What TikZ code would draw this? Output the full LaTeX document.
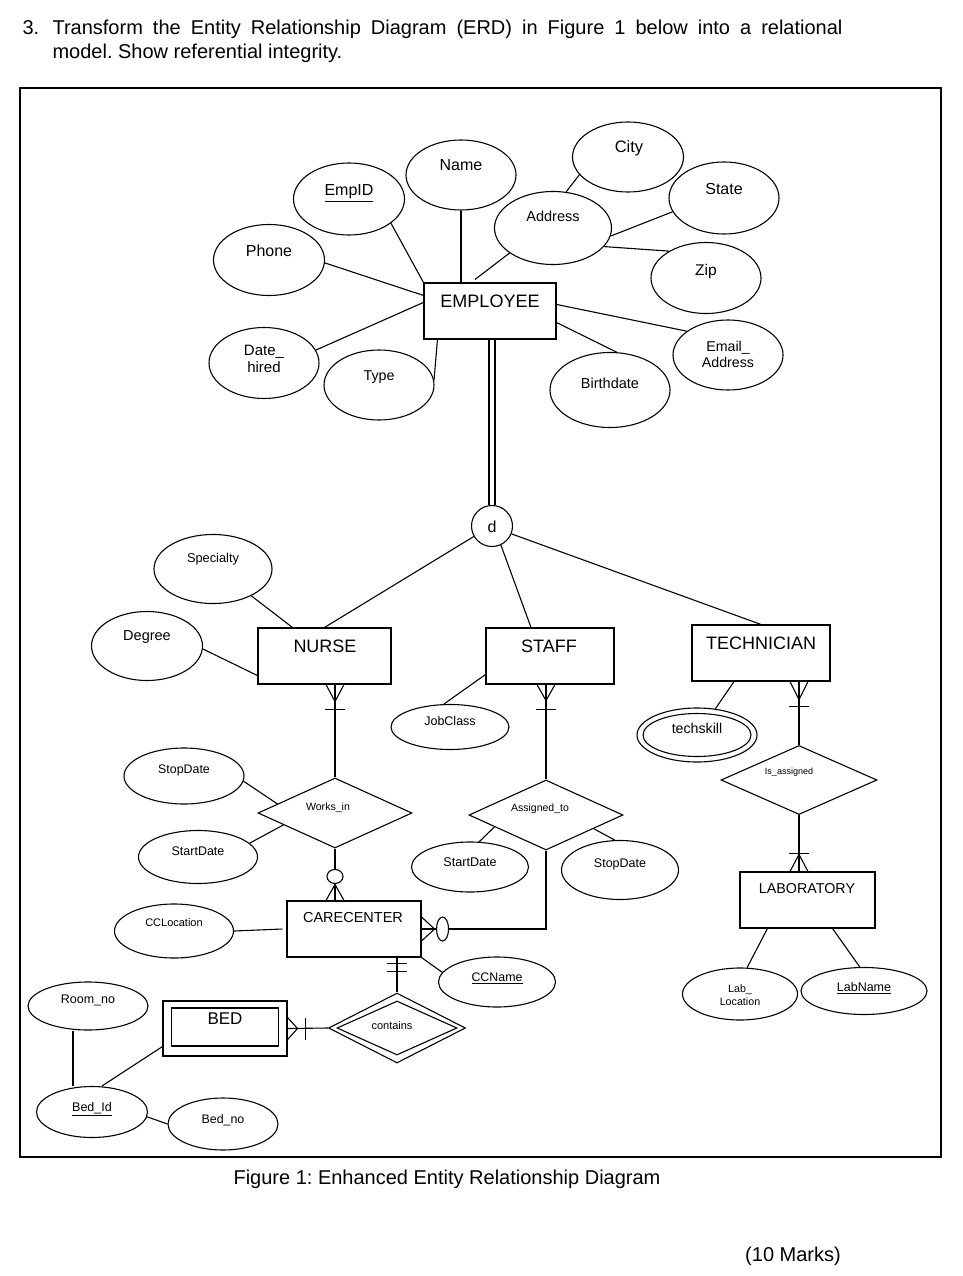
\documentclass[tikz,border=0pt]{standalone}
\usepackage{fontspec}
\setmainfont{Liberation Sans}
\usetikzlibrary{shapes.geometric}
\frenchspacing
\tikzset{
  ent/.style={draw, rectangle, inner sep=0pt},
  att/.style={draw, ellipse, inner sep=0pt},
  rel/.style={draw, diamond, inner sep=0pt},
  t/.style={inner sep=0pt, anchor=base, font=\fontsize{#1}{#1}\selectfont},
  tm/.style 2 args={inner sep=0pt, anchor=base, align=center, font=\fontsize{#1}{#2}\selectfont},
}
\begin{document}
\begin{tikzpicture}[x=1pt,y=-1pt,line width=1.1pt]
\useasboundingbox[fill=white] (0,0) rectangle (962,1276);

% title
\node[t=20, anchor=base west] (num) at (22,35) {3.};
\node[t=20, anchor=base west] (tl1) at (52,35) {\makebox[790pt][s]{Transform the Entity Relationship Diagram (ERD) in Figure 1 below into a relational}};
\node[t=20, anchor=base west] (tl2) at (52,59) {model. Show referential integrity.};

% frame
\draw[line width=1.2pt] (20,88) rectangle (941,1157);

% entities
\node[ent, minimum width=132pt, minimum height=56pt] (emp) at (490,311) {};
\node[ent, minimum width=133pt, minimum height=56pt] (nurse) at (324.5,656) {};
\node[ent, minimum width=128pt, minimum height=56pt] (staff) at (550,656) {};
\node[ent, minimum width=138pt, minimum height=56pt] (tech) at (761,653) {};
\node[ent, minimum width=134pt, minimum height=56pt] (carec) at (354,929) {};
\node[ent, minimum width=135pt, minimum height=56pt] (lab) at (807.5,900) {};
\node[ent, minimum width=124pt, minimum height=55pt] (bed) at (225,1028.5) {};
\node[ent, minimum width=107pt, minimum height=38pt] (bedin) at (225,1027) {};
\node[draw, circle, minimum size=41pt, inner sep=0pt] (d) at (492,526) {};

% relationships
\node[rel, minimum width=154pt, minimum height=70pt] (works) at (335,813) {};
\node[rel, minimum width=154pt, minimum height=70pt] (assigned) at (546,815) {};
\node[rel, minimum width=156pt, minimum height=69pt] (isass) at (799,780) {};
\node[rel, minimum width=137pt, minimum height=70pt] (contains) at (397,1028) {};
\node[rel, minimum width=120pt, minimum height=54pt] (containsin) at (397,1028) {};

% attributes
\node[att, minimum width=110pt, minimum height=70pt] (name) at (461,175) {};
\node[att, minimum width=111pt, minimum height=72pt] (empid) at (349,199) {};
\node[att, minimum width=111pt, minimum height=71pt] (phone) at (269,260) {};
\node[att, minimum width=110pt, minimum height=71pt] (dh) at (264,363) {};
\node[att, minimum width=110pt, minimum height=70pt] (type) at (379,385) {};
\node[att, minimum width=117pt, minimum height=73pt] (addr) at (553,228) {};
\node[att, minimum width=111pt, minimum height=70pt] (city) at (628,157) {};
\node[att, minimum width=110pt, minimum height=72pt] (state) at (724,198) {};
\node[att, minimum width=110pt, minimum height=71pt] (zip) at (706,278) {};
\node[att, minimum width=110pt, minimum height=70pt] (email) at (728,355) {};
\node[att, minimum width=120pt, minimum height=75pt] (bd) at (610,390) {};
\node[att, minimum width=118pt, minimum height=69pt] (spec) at (213,569) {};
\node[att, minimum width=111pt, minimum height=69pt] (deg) at (147,646) {};
\node[att, minimum width=118pt, minimum height=45pt] (job) at (450,727) {};
\node[att, minimum width=120pt, minimum height=54pt] (tsk) at (697,735) {};
\node[att, minimum width=108pt, minimum height=43pt] (tskin) at (697,735) {};
\node[att, minimum width=120pt, minimum height=56pt] (stopl) at (184,776) {};
\node[att, minimum width=119pt, minimum height=53pt] (startl) at (198,857) {};
\node[att, minimum width=117pt, minimum height=50pt] (startm) at (470,867) {};
\node[att, minimum width=117pt, minimum height=59pt] (stopr) at (620,870) {};
\node[att, minimum width=119pt, minimum height=54pt] (ccloc) at (174,931) {};
\node[att, minimum width=117pt, minimum height=50pt] (ccname) at (497,982) {};
\node[att, minimum width=115pt, minimum height=52pt] (labloc) at (740,994) {};
\node[att, minimum width=126pt, minimum height=47pt] (labname) at (864,991) {};
\node[att, minimum width=120pt, minimum height=48pt] (roomno) at (88,1006) {};
\node[att, minimum width=111pt, minimum height=51pt] (bedid) at (92,1112) {};
\node[att, minimum width=110pt, minimum height=52pt] (bedno) at (223,1124) {};

% labels
\node[t=18] (l-emp) at (490,307.5) {EMPLOYEE};
\node[t=18] (l-nurse) at (325,652.5) {NURSE};
\node[t=18] (l-staff) at (549,652.5) {STAFF};
\node[t=18] (l-tech) at (761,649.5) {TECHNICIAN};
\node[t=14.5] (l-carec) at (353,922) {CARECENTER};
\node[t=14.3] (l-lab) at (807,893) {LABORATORY};
\node[t=17] (l-bed) at (225,1024) {BED};
\node[t=16] (l-d) at (492,532) {d};
\node[t=10.6] (l-works) at (328,810) {Works\_in};
\node[t=10.5] (l-assigned) at (540,811) {Assigned\_to};
\node[t=9] (l-isass) at (789,774) {Is\_assigned};
\node[t=11] (l-contains) at (392,1029) {contains};
\node[t=16] (l-name) at (461,171) {Name};
\node[t=16] (l-empid) at (349,196) {\underline{EmpID}};
\node[t=16] (l-phone) at (269,256) {Phone};
\node[tm={15}{17}] (l-dh) at (264,372) {Date\_\\hired};
\node[t=14.2] (l-type) at (379,380) {Type};
\node[t=14.5] (l-addr) at (553,222) {Address};
\node[t=16.5] (l-city) at (629,153) {City};
\node[t=16] (l-state) at (724,194) {State};
\node[t=15.5] (l-zip) at (706,275) {Zip};
\node[tm={14.2}{16}] (l-email) at (728,367) {Email\_\\Address};
\node[t=14.5] (l-bd) at (610,388) {Birthdate};
\node[t=12.8] (l-spec) at (213,562.5) {Specialty};
\node[t=14.5] (l-deg) at (147,640) {Degree};
\node[t=12.5] (l-job) at (450,725.5) {JobClass};
\node[t=14.2] (l-tsk) at (697,733) {techskill};
\node[t=12.4] (l-stopl) at (184,773.5) {StopDate};
\node[t=12.5] (l-startl) at (198,855.5) {StartDate};
\node[t=12.6] (l-startm) at (470,866.5) {StartDate};
\node[t=12.5] (l-stopr) at (620,867.5) {StopDate};
\node[t=11] (l-ccloc) at (174,926) {CCLocation};
\node[t=12.4] (l-ccname) at (497,981.5) {\underline{CCName}};
\node[tm={10.7}{13}] (l-labloc) at (740,1005) {Lab\_\\Location};
\node[t=12.5] (l-labname) at (864,991.5) {\underline{LabName}};
\node[t=12.5] (l-roomno) at (88,1003.5) {Room\_no};
\node[t=12.5] (l-bedid) at (92,1111.5) {\underline{Bed\_Id}};
\node[t=12.4] (l-bedno) at (223,1123.5) {Bed\_no};

% caption
\node[t=20] (cap) at (447,1184) {Figure 1: Enhanced Entity Relationship Diagram};
\node[t=20] (marks) at (793,1261) {(10 Marks)};

% EMPLOYEE attribute connectors
\draw (empid.-30) -- (emp.north west);
\draw (name.south) -- (name.south |- emp.north);
\draw (addr.-150) -- ([xshift=-15pt,yshift=3pt]emp.north);
\draw (phone.-3) -- ([yshift=-13pt]emp.north west);
\draw (dh.14) -- ([yshift=-20pt]emp.north west);
\draw (type.5) -- ([xshift=14pt]emp.south west);
\draw (bd.80) -- ([yshift=17pt]emp.south east);
\draw (email.150) -- ([yshift=-22pt]emp.north east);
\draw (city.200) -- (addr.70);
\draw (state.195) -- (addr.-8);
\draw (addr.-20) -- (zip.144);

% specialization
\draw ([xshift=-3pt]emp.south -| d.north) -- ([xshift=-3pt]d.north);
\draw ([xshift=3pt]emp.south -| d.north) -- ([xshift=3pt]d.north);
\draw (d.-150) -- (nurse.north);
\draw (d.-65) -- ([xshift=-19pt]staff.north);
\draw (d.-22) -- (tech.north);

% subtype attributes
\draw (spec.-35) -- ([xshift=35pt]nurse.north west);
\draw (deg.-3) -- ([yshift=9pt]nurse.south west);
\draw (job.105) -- ([yshift=10pt]staff.south west);
\draw (tsk.55) -- ([xshift=-27pt]tech.south);

% NURSE - Works_in
\coordinate (n1) at (works.north |- nurse.south);
\draw (n1) -- (works.north);
\draw ([xshift=-9pt]n1) -- ([yshift=-17pt]n1) -- ([xshift=9pt]n1);
\draw ([xshift=-10pt,yshift=-25pt]n1) -- ([xshift=10pt,yshift=-25pt]n1);

% Works_in - CARECENTER
\coordinate (c1) at (works.south |- carec.north);
\draw (works.south) -- (c1);
\draw ([xshift=-9pt]c1) -- ([yshift=16pt]c1) -- ([xshift=9pt]c1);
\draw[fill=white] ([yshift=24pt]c1) ellipse [x radius=8pt, y radius=7pt];

% STAFF - Assigned_to
\coordinate (s1) at (assigned.north |- staff.south);
\draw (s1) -- (assigned.north);
\draw ([xshift=-9pt]s1) -- ([yshift=-16pt]s1) -- ([xshift=9pt]s1);
\draw ([xshift=-10pt,yshift=-25pt]s1) -- ([xshift=10pt,yshift=-25pt]s1);

% Assigned_to - CARECENTER
\coordinate (c2) at (assigned.south |- carec.east);
\draw (carec.east) -- (c2) -- (assigned.south);
\draw ([yshift=12pt]carec.east) -- ([xshift=13pt]carec.east) -- ([yshift=-12pt]carec.east);
\draw[fill=white] ([xshift=21pt]carec.east) ellipse [x radius=6pt, y radius=12pt];

% TECHNICIAN - Is_assigned
\coordinate (t1) at (isass.north |- tech.south);
\draw (t1) -- (isass.north);
\draw ([xshift=-9pt]t1) -- ([yshift=-18pt]t1) -- ([xshift=9pt]t1);
\draw ([xshift=-10pt,yshift=-25pt]t1) -- ([xshift=10pt,yshift=-25pt]t1);

% Is_assigned - LABORATORY
\coordinate (lb1) at (isass.south |- lab.north);
\draw (isass.south) -- (lb1);
\draw ([xshift=-9pt]lb1) -- ([yshift=17pt]lb1) -- ([xshift=9pt]lb1);
\draw ([xshift=-10pt,yshift=18pt]lb1) -- ([xshift=10pt,yshift=18pt]lb1);

% CARECENTER - contains
\coordinate (c3) at (contains.north |- carec.south);
\draw (c3) -- (contains.north);
\draw ([xshift=-10pt,yshift=-6pt]c3) -- ([xshift=10pt,yshift=-6pt]c3);
\draw ([xshift=-10pt,yshift=-14pt]c3) -- ([xshift=10pt,yshift=-14pt]c3);

% BED - contains
\draw (bed.east) -- (contains.west);
\draw ([yshift=11pt]bed.east) -- ([xshift=10pt]bed.east) -- ([yshift=-11pt]bed.east);
\draw ([xshift=18pt,yshift=11pt]bed.east) -- ([xshift=18pt,yshift=-11pt]bed.east);

% relationship attributes
\draw (stopl.-5) -- (works.171);
\draw (startl.15) -- (works.193);
\draw (startm.70) -- (assigned.193);
\draw (stopr.100) -- (assigned.-16);

% CARECENTER attributes
\draw (ccloc.east) -- ([xshift=-4pt]carec.west);
\draw (carec.south east) -- (ccname.170);

% LABORATORY attributes
\draw ([xshift=28pt]lab.south west) -- (labloc.75);
\draw ([xshift=-43pt]lab.south east) -- (labname.100);

% BED attributes
\draw ([xshift=-15pt]roomno.south) -- ([xshift=-19pt]bedid.north);
\draw ([xshift=10pt]bedid.north) -- ([yshift=10pt]bed.south west);
\draw (bedid.-5) -- (bedno.west);
\end{tikzpicture}
\end{document}
